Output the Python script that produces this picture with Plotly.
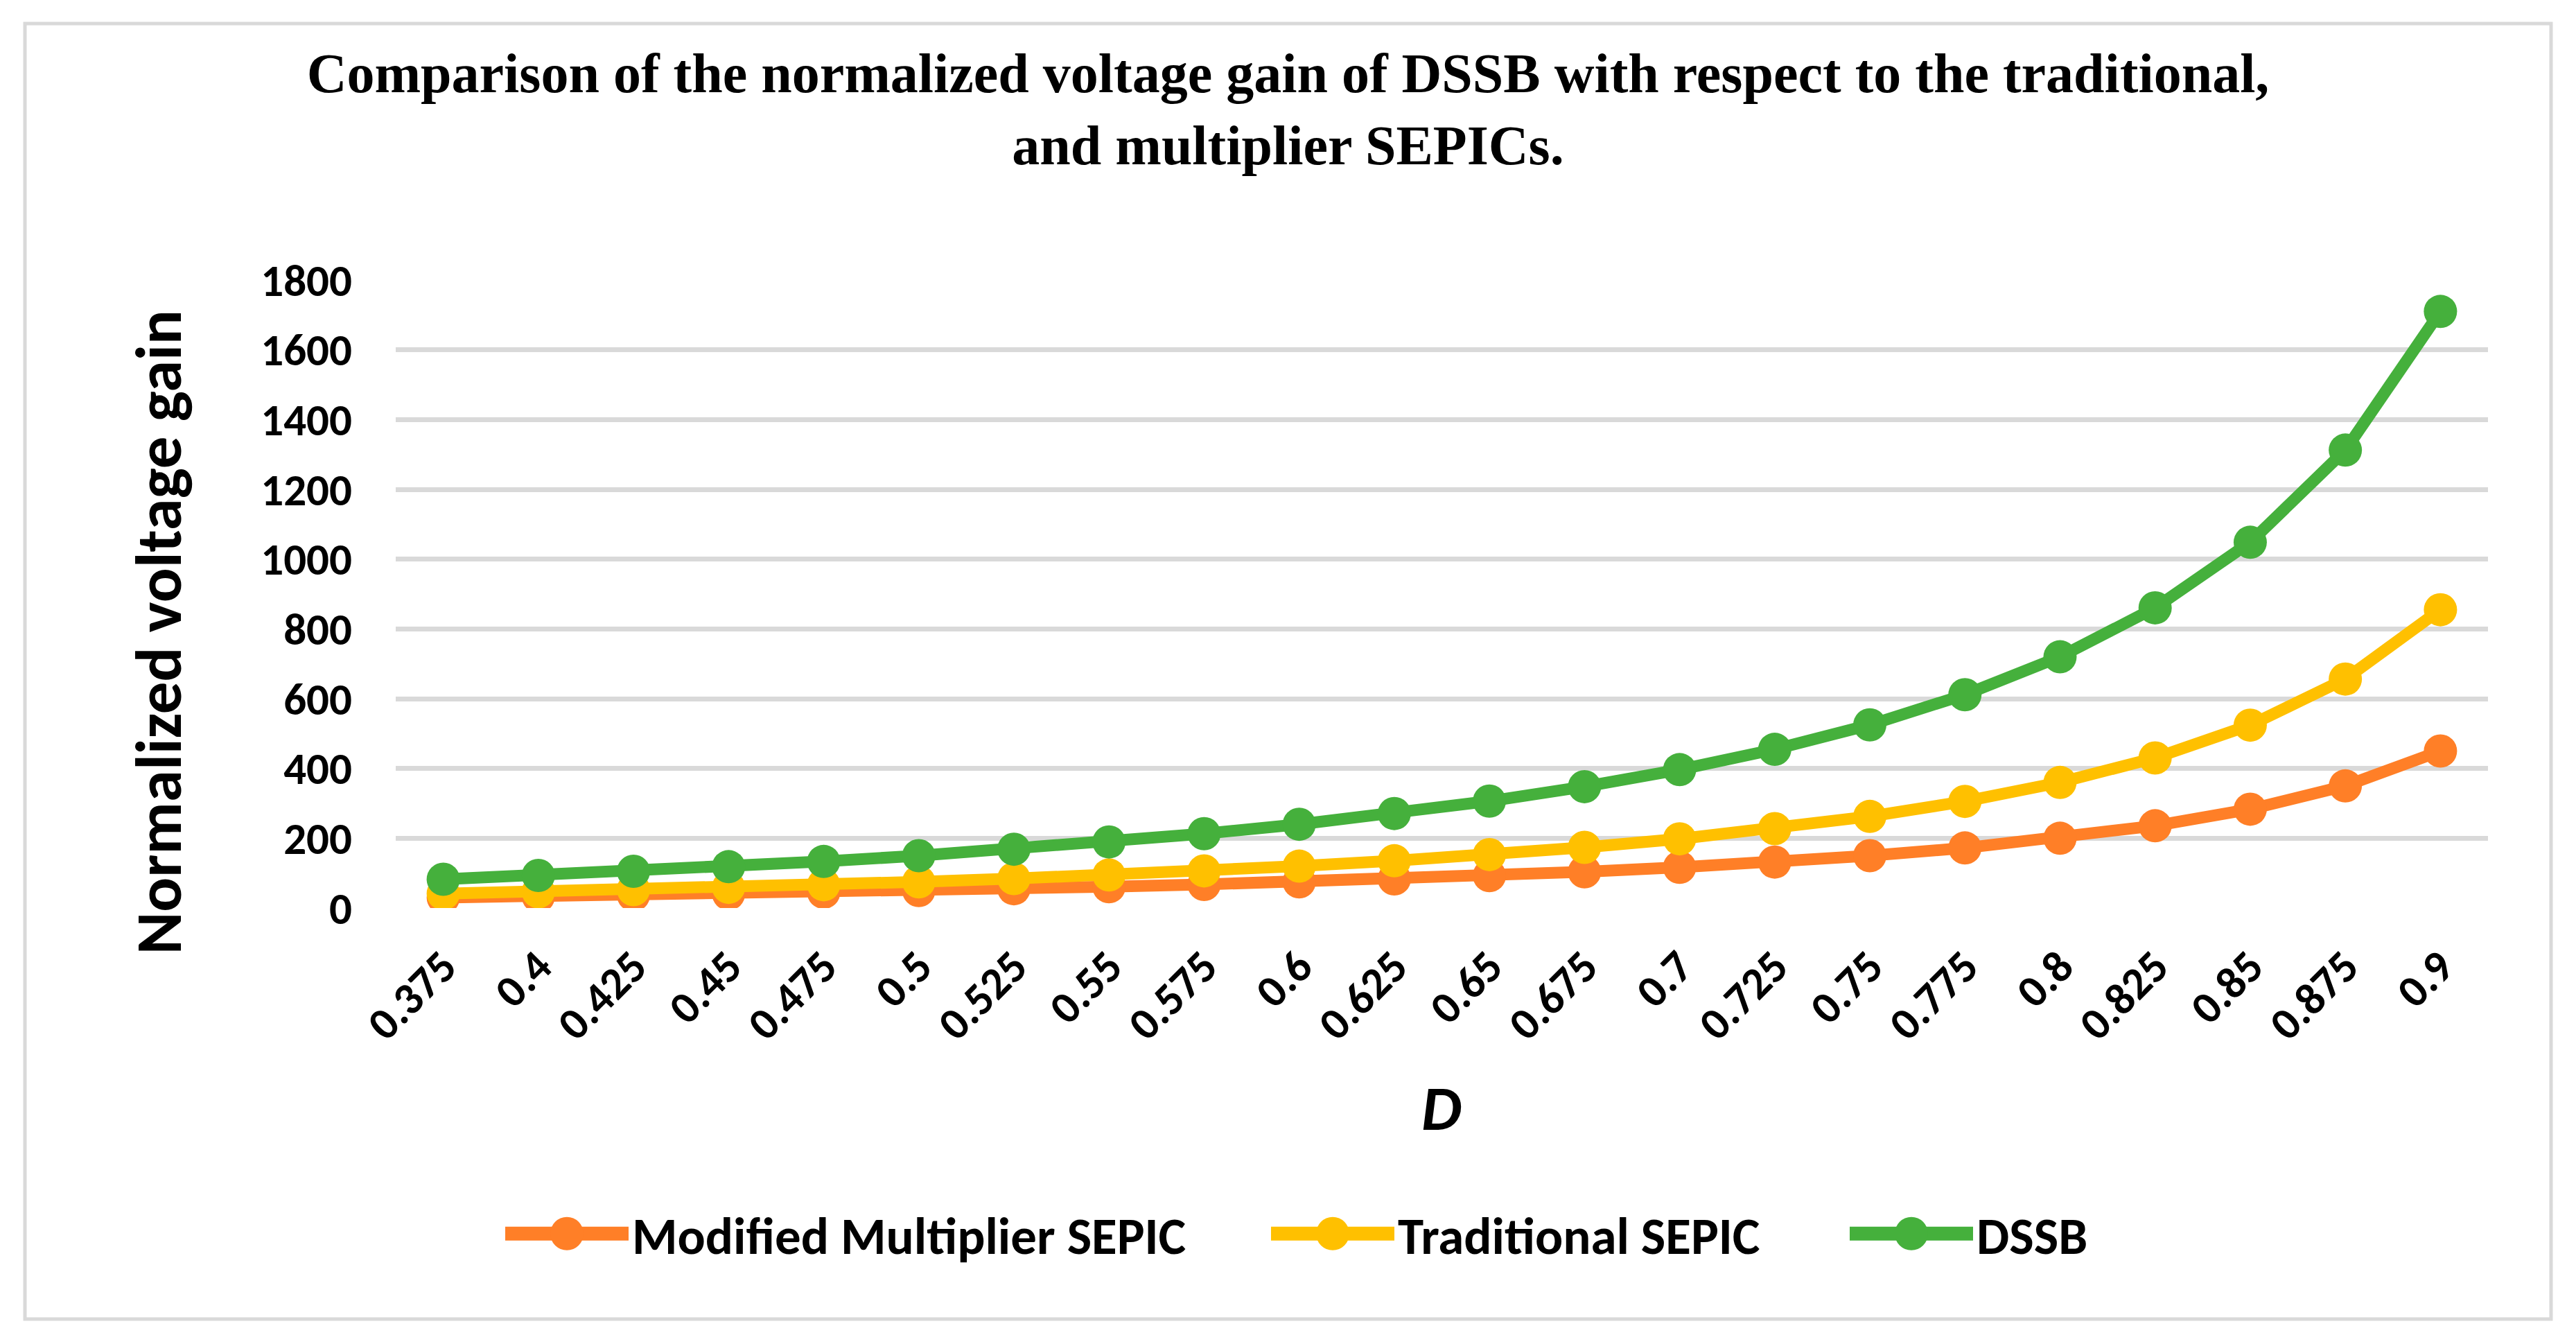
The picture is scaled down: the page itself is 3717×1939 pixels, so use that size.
import plotly.graph_objects as go

# ---- data ----
duty_cycle = ["0.375", "0.4", "0.425", "0.45", "0.475", "0.5", "0.525", "0.55",
              "0.575", "0.6", "0.625", "0.65", "0.675", "0.7", "0.725", "0.75",
              "0.775", "0.8", "0.825", "0.85", "0.875", "0.9"]

modified_multiplier_sepic = [30.0, 33.3, 37.0, 40.9, 45.2, 50.0, 55.3, 61.1,
                             67.6, 75.0, 83.3, 92.9, 103.8, 116.7, 131.8, 150.0,
                             172.2, 200.0, 235.7, 283.3, 350.0, 450.0]

traditional_sepic = [41.3, 46.7, 52.7, 59.3, 66.7, 75.0, 84.3, 94.7,
                     106.5, 120.0, 135.4, 153.2, 173.9, 198.3, 227.4, 262.5,
                     305.7, 360.0, 430.2, 524.2, 656.3, 855.0]

dssb = [82.5, 93.3, 105.3, 118.6, 133.5, 150.0, 168.6, 189.4,
        213.1, 240.0, 270.8, 306.4, 347.9, 396.7, 454.8, 525.0,
        611.4, 720.0, 860.4, 1048.3, 1312.5, 1710.0]

series_names = ["Modified Multiplier SEPIC", "Traditional SEPIC", "DSSB"]
series_values = [modified_multiplier_sepic, traditional_sepic, dssb]
series_colors = ["#FF7F27", "#FFC000", "#45B03C"]
legend_ids = ["legend", "legend2", "legend3"]
legend_left_px = [724, 1829, 2664]

y_ticks = [0, 200, 400, 600, 800, 1000, 1200, 1400, 1600, 1800]

title_text = ("Comparison of the normalized voltage gain of DSSB with respect to the traditional,"
              "<br>and multiplier SEPICs.")

# ---- figure geometry ----
W, H = 3717, 1939
ML, MR, MT, MB = 571, 127, 404, 629
PW = W - ML - MR
PH = H - MT - MB

SANS = "Calibri, Carlito, Lato, sans-serif"

fig = go.Figure()
for name, vals, col, lg in zip(series_names, series_values, series_colors, legend_ids):
    fig.add_trace(go.Scatter(
        x=duty_cycle, y=vals, name=name, mode="lines+markers",
        line=dict(color=col, width=17),
        marker=dict(color=col, size=48),
        legend=lg,
    ))

def px_x(px):
    return (px - ML) / PW

def px_y(py):
    return (H - MB - py) / PH

legend_font = dict(family=SANS, size=75, color="black", weight="bold")
legend_layouts = {}
for lg, left in zip(legend_ids, legend_left_px):
    legend_layouts[lg] = dict(
        orientation="h",
        xref="container", yref="container",
        x=left / W, xanchor="left",
        y=1 - 1780 / H, yanchor="middle",
        font=legend_font,
        itemwidth=178,
        bgcolor="rgba(0,0,0,0)",
    )

fig.update_layout(
    width=W, height=H,
    margin=dict(l=ML, r=MR, t=MT, b=MB, autoexpand=False),
    paper_bgcolor="white", plot_bgcolor="white",
    title=dict(
        text=title_text,
        font=dict(family="Book Antiqua, Palatino Linotype, Liberation Serif, serif",
                  size=80, color="black", weight="bold"),
        x=0.5, xanchor="center", xref="container",
        y=1 - 133 / H, yanchor="top", yref="container",
    ),
    xaxis=dict(
        type="category",
        range=[-0.5, len(duty_cycle) - 0.5],
        tickangle=-45,
        tickfont=dict(family=SANS, size=65, color="black", weight="bold"),
        showgrid=False, showline=False, zeroline=False,
        ticks="", ticklabelstandoff=32, automargin=False,
    ),
    yaxis=dict(
        range=[0, 1800],
        tickvals=y_ticks,
        tickfont=dict(family=SANS, size=65, color="black", weight="bold"),
        showgrid=True, gridcolor="#D9D9D9", gridwidth=7,
        showline=False, zeroline=False, ticks="",
        ticklabelstandoff=62, automargin=False,
    ),
    showlegend=True,
    annotations=[
        dict(text="Normalized voltage gain", textangle=-90,
             xref="paper", yref="paper", x=px_x(229), y=px_y(912),
             xanchor="center", yanchor="middle", showarrow=False,
             font=dict(family=SANS, size=93, color="black", weight="bold")),
        dict(text="<i>D</i>",
             xref="paper", yref="paper", x=px_x(2080), y=px_y(1598),
             xanchor="center", yanchor="middle", showarrow=False,
             font=dict(family=SANS, size=92, color="black", weight="bold")),
    ],
    shapes=[
        dict(type="rect", xref="paper", yref="paper",
             x0=px_x(36), x1=px_x(3681), y0=px_y(1903), y1=px_y(34),
             line=dict(color="#D9D9D9", width=5), fillcolor="rgba(0,0,0,0)",
             layer="below"),
    ],
    **legend_layouts,
)

# remove the default page margin and enlarge the legend symbols
# (plotly caps legend symbol sizes) to match the reference style
post_js = """
document.body.style.margin = '0';
var gd = document.getElementById('{plot_id}');
function fixLegend(){
  gd.querySelectorAll('.legendpoints path.scatterpts').forEach(function(p){
    p.setAttribute('d','M24,0A24,24 0 1,1 0,-24A24,24 0 0,1 24,0Z');
  });
  gd.querySelectorAll('.legendlines path').forEach(function(p){
    p.style.strokeWidth = '20px';
  });
}
fixLegend();
gd.on('plotly_afterplot', fixLegend);
"""

fig.write_html("out.html", post_script=post_js,
               config={"displayModeBar": False})
